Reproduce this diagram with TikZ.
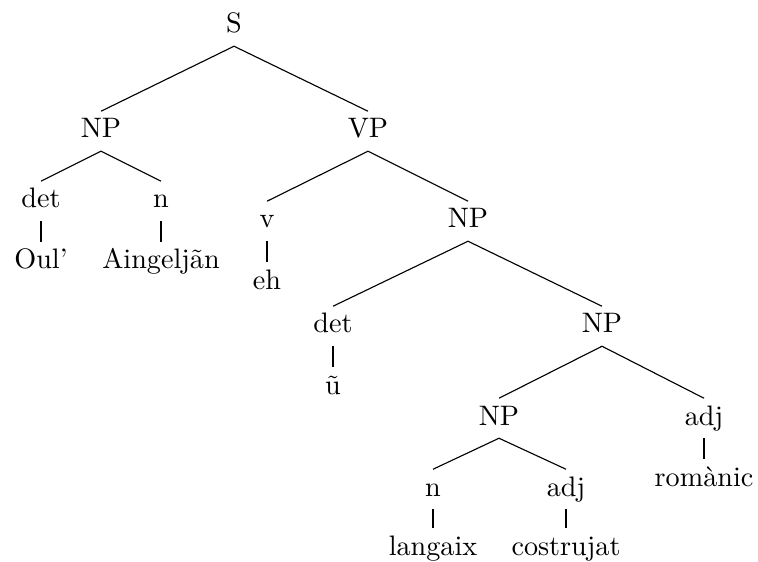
\documentclass[tikz,border=0pt]{standalone}
\begin{document}
\begin{tikzpicture}[x=0.355pt,y=-0.355pt,
  tn/.style={inner xsep=0pt,inner ysep=2pt,text height=7.3pt,text depth=2.5pt,anchor=base},
  edge/.style={line width=0.4pt}]
\path[use as bounding box] (0,0) rectangle (758,562);
% nodes (positions at baselines)
\node[tn] (S) at (234,33) {S};
\node[tn] (NPa) at (101,138) {NP};
\node[tn] (VP) at (368,138) {VP};
\node[tn] (deta) at (41,208) {det};
\node[tn] (na) at (161,208) {n};
\node[tn] (oul) at (41,269) {Oul’};
\node[tn] (aing) at (161,269) {Aingeljãn};
\node[tn] (v) at (267,228) {v};
\node[tn] (NPb) at (468,228) {NP};
\node[tn] (eh) at (267,289) {eh};
\node[tn] (detb) at (333,333) {det};
\node[tn] (NPc) at (602,333) {NP};
\node[tn] (u) at (333,394) {ũ};
\node[tn] (NPd) at (499,425) {NP};
\node[tn] (adja) at (704,425) {adj};
\node[tn] (rom) at (704,486) {romànic};
\node[tn] (nb) at (433,496) {n};
\node[tn] (adjb) at (566,496) {adj};
\node[tn] (lang) at (433,555) {langaix};
\node[tn] (cost) at (566,555) {costrujat};
% edges
\draw[edge] (S.south) -- (NPa.north);
\draw[edge] (S.south) -- (VP.north);
\draw[edge] (NPa.south) -- (deta.north);
\draw[edge] (NPa.south) -- (na.north);
\draw[edge] (deta.south) -- (oul.north);
\draw[edge] (na.south) -- (aing.north);
\draw[edge] (VP.south) -- (v.north);
\draw[edge] (VP.south) -- (NPb.north);
\draw[edge] (v.south) -- (eh.north);
\draw[edge] (NPb.south) -- (detb.north);
\draw[edge] (NPb.south) -- (NPc.north);
\draw[edge] (detb.south) -- (u.north);
\draw[edge] (NPc.south) -- (NPd.north);
\draw[edge] (NPc.south) -- (adja.north);
\draw[edge] (adja.south) -- (rom.north);
\draw[edge] (NPd.south) -- (nb.north);
\draw[edge] (NPd.south) -- (adjb.north);
\draw[edge] (nb.south) -- (lang.north);
\draw[edge] (adjb.south) -- (cost.north);
\end{tikzpicture}
\end{document}
